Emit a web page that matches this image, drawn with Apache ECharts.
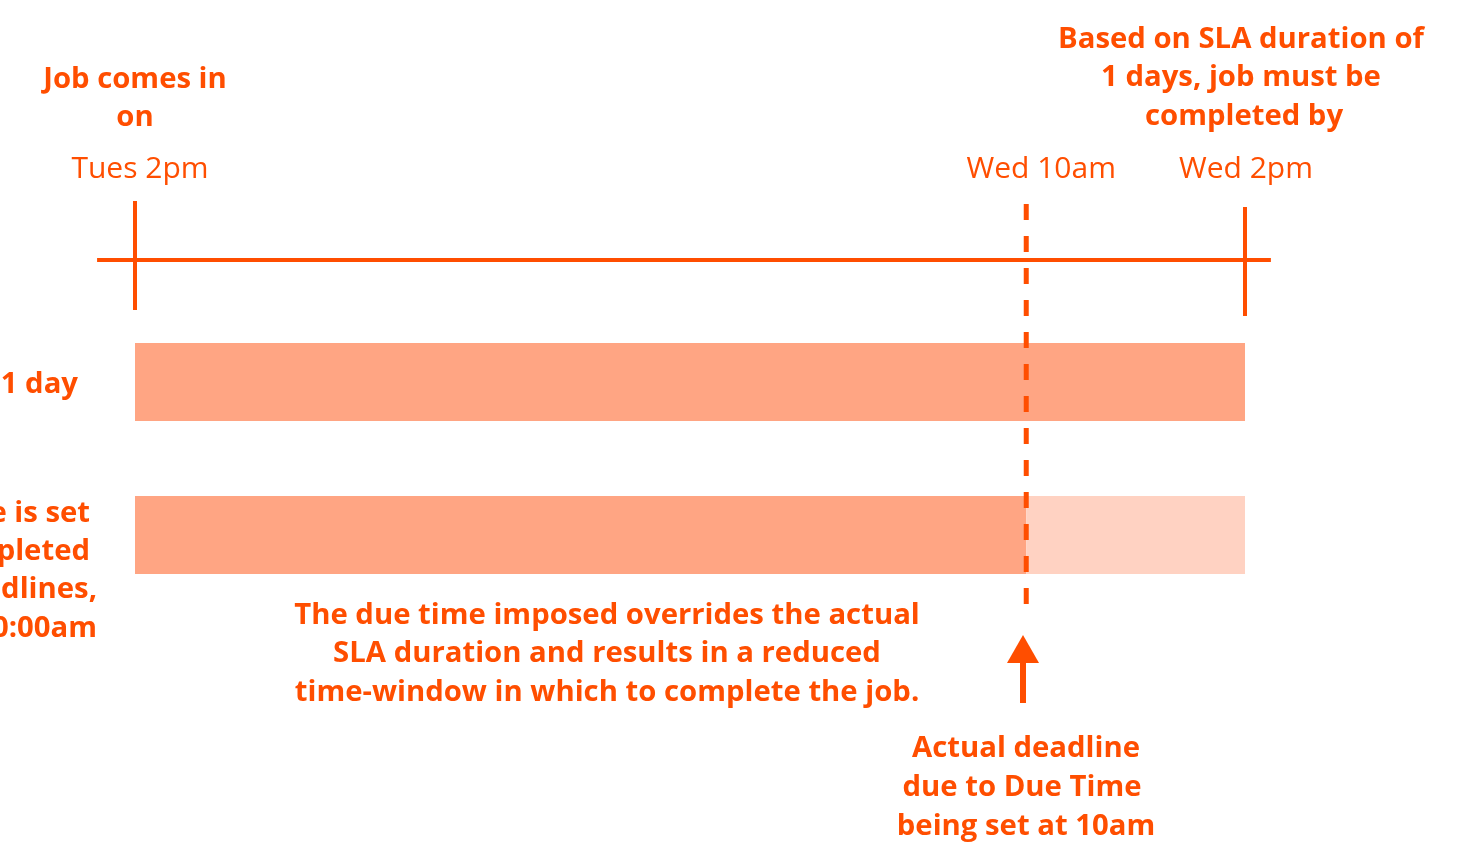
<!DOCTYPE html>
<html><head><meta charset="utf-8">
<script src="https://cdn.jsdelivr.net/npm/echarts@6/dist/echarts.min.js"></script>
<style>html,body{margin:0;padding:0;background:#fff;}#c{width:1461px;height:848px;}</style>
</head><body><div id="c"></div>
<script>
// ---- data (hours after Tues 2pm, as drawn) ----
const eventLabels = ['Tues 2pm', 'Wed 10am', 'Wed 2pm'];
const eventHours = [0, 19.27, 24];
const timelineExtent = [-0.82, 24.56];
const slaBar = [0, 24];
const dueTimeUsed = [0, 19.27];
const dueTimeLost = [19.27, 24];
const arrowHour = [19.2];

const ORANGE = '#FF4E00';
const BAR = '#FFA583';
const BAR_LIGHT = '#FFD2C2';
const FONT = '"Open Sans"';
const BOLD = 'bold 29.3px ' + FONT;
const DY = 2;

const chart = echarts.init(document.getElementById('c'), null, {renderer: 'canvas'});

function txt(x, y, s, align) {
  return {type: 'text', x: x, y: y + DY, style: {text: s, fill: ORANGE, font: BOLD, align: align || 'center', verticalAlign: 'middle'}};
}

const graphics = [
  txt(135, 78, 'Job comes in'),
  txt(135, 116, 'on'),
  txt(1241, 38, 'Based on SLA duration of'),
  txt(1241, 76, '1 days, job must be'),
  txt(1244, 115, 'completed by'),
  txt(78, 383, '1 day', 'right'),
  txt(90, 512, 'When a Due Time is set', 'right'),
  txt(90, 550, 'job must be completed', 'right'),
  txt(97, 588, 'within business deadlines,', 'right'),
  txt(97, 627, 'i.e. by Wed 10:00am', 'right'),
  txt(607, 614, 'The due time imposed overrides the actual'),
  txt(607, 652, 'SLA duration and results in a reduced'),
  txt(607, 691, 'time-window in which to complete the job.'),
  txt(1026, 747, 'Actual deadline'),
  txt(1022, 786, 'due to Due Time'),
  txt(1026, 825, 'being set at 10am')
];

const labelOffsets = [5, 15, 1];

chart.setOption({
  animation: false,
  grid: {left: 135, right: 216, top: 0, bottom: 0},
  xAxis: {type: 'value', min: 0, max: 24, show: false},
  yAxis: {type: 'value', min: 0, max: 848, inverse: true, show: false},
  graphic: graphics,
  series: [
    { // SLA bar
      type: 'custom', z: 1,
      data: [slaBar],
      renderItem: function (p, api) {
        const a = api.coord([api.value(0), 343]);
        const b = api.coord([api.value(1), 421]);
        return {type: 'rect', shape: {x: a[0], y: a[1], width: b[0] - a[0], height: b[1] - a[1]}, style: {fill: BAR}};
      }
    },
    { // Due-time bar
      type: 'custom', z: 1,
      data: [dueTimeUsed.concat([0]), dueTimeLost.concat([1])],
      renderItem: function (p, api) {
        const a = api.coord([api.value(0), 496]);
        const b = api.coord([api.value(1), 574]);
        return {type: 'rect', shape: {x: a[0], y: a[1], width: b[0] - a[0], height: b[1] - a[1]}, style: {fill: api.value(2) ? BAR_LIGHT : BAR}};
      }
    },
    { // timeline
      type: 'custom', z: 2,
      data: [timelineExtent],
      renderItem: function (p, api) {
        const a = api.coord([api.value(0), 260]);
        const b = api.coord([api.value(1), 260]);
        return {type: 'line', shape: {x1: a[0], y1: a[1], x2: b[0], y2: b[1]}, style: {stroke: ORANGE, lineWidth: 4}};
      }
    },
    { // event ticks, dashed deadline and labels
      type: 'custom', z: 3,
      data: eventHours.map(function (h, i) { return [h, i]; }),
      renderItem: function (p, api) {
        const i = api.value(1);
        const x = api.coord([api.value(0), 0])[0];
        const children = [];
        if (i === 1) {
          children.push({type: 'line', shape: {x1: x, y1: 204, x2: x, y2: 604}, style: {stroke: ORANGE, lineWidth: 5, lineDash: [16, 16]}});
        } else {
          const y1 = i === 0 ? 201 : 207;
          children.push({type: 'line', shape: {x1: x, y1: y1, x2: x, y2: y1 + 109}, style: {stroke: ORANGE, lineWidth: 4}});
        }
        children.push({type: 'text', x: x + labelOffsets[i], y: 167 + DY, style: {text: eventLabels[i], fill: ORANGE, font: '30px ' + FONT, align: 'center', verticalAlign: 'middle'}});
        return {type: 'group', children: children};
      }
    },
    { // arrow
      type: 'custom', z: 3,
      data: [arrowHour],
      renderItem: function (p, api) {
        const x = api.coord([api.value(0), 0])[0];
        return {type: 'group', children: [
          {type: 'polygon', shape: {points: [[x, 635], [x - 16, 663], [x + 16, 663]]}, style: {fill: ORANGE}},
          {type: 'rect', shape: {x: x - 3, y: 660, width: 6, height: 43}, style: {fill: ORANGE}}
        ]};
      }
    }
  ]
});
</script></body></html>
